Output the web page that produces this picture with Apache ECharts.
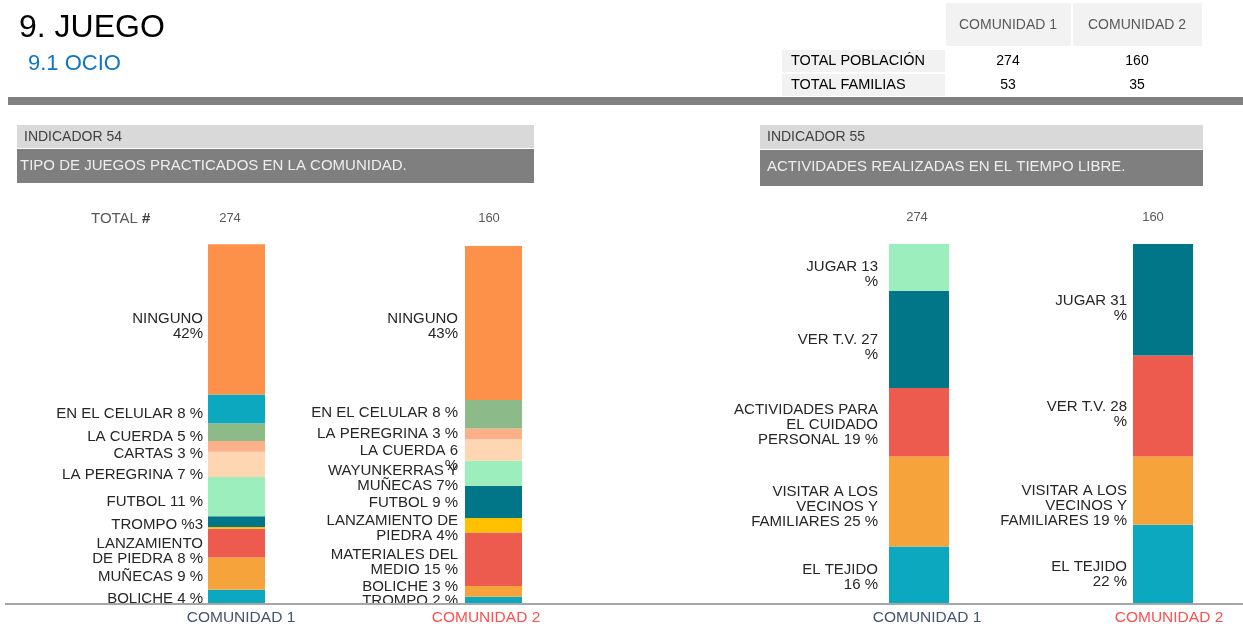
<!DOCTYPE html>
<html>
<head>
<meta charset="utf-8">
<title>9. JUEGO</title>
<script src="https://cdn.jsdelivr.net/npm/echarts@6/dist/echarts.min.js"></script>
<style>
  html, body { margin: 0; padding: 0; background: #ffffff; overflow: hidden; }
  #chart { width: 1290px; height: 626px; }
</style>
</head>
<body>
<div id="chart"></div>
<script>
// ---- Data -----------------------------------------------------------------
const comunidades = ['COMUNIDAD 1', 'COMUNIDAD 2'];
const totalPoblacion = [274, 160];
const totalFamilias = [53, 35];

// Indicador 54: tipo de juegos (%), segments listed bottom to top
const juegosC1Valores = [4, 9, 8, 0.5, 3, 11, 7, 3, 5, 8, 42];
const juegosC1Etiquetas = [
  'BOLICHE 4 %', 'MUÑECAS 9 %', 'LANZAMIENTO\nDE PIEDRA 8 %', '', 'TROMPO %3',
  'FUTBOL 11 %', 'LA PEREGRINA 7 %', 'CARTAS 3 %', 'LA CUERDA 5 %',
  'EN EL CELULAR 8 %', 'NINGUNO\n42%'
];
const juegosC2Valores = [2, 3, 15, 4, 9, 7, 6, 3, 8, 0, 43];
const juegosC2Etiquetas = [
  'TROMPO 2 %', 'BOLICHE 3 %', 'MATERIALES DEL\nMEDIO 15 %', 'LANZAMIENTO DE\nPIEDRA 4%',
  'FUTBOL 9 %', 'WAYUNKERRAS Y\nMUÑECAS 7%', 'LA CUERDA 6\n%', 'LA PEREGRINA 3 %',
  'EN EL CELULAR 8 %', '', 'NINGUNO\n43%'
];

// Indicador 55: actividades en el tiempo libre (%), bottom to top
const ocioC1Valores = [16, 25, 19, 27, 13];
const ocioC1Etiquetas = [
  'EL TEJIDO\n16 %', 'VISITAR A LOS\nVECINOS Y\nFAMILIARES 25 %',
  'ACTIVIDADES PARA\nEL CUIDADO\nPERSONAL 19 %', 'VER T.V. 27\n%', 'JUGAR 13\n%'
];
const ocioC2Valores = [22, 19, 28, 31, 0];
const ocioC2Etiquetas = [
  'EL TEJIDO\n22 %', 'VISITAR A LOS\nVECINOS Y\nFAMILIARES 19 %', 'VER T.V. 28\n%', 'JUGAR 31\n%', ''
];

// ---- Styles ---------------------------------------------------------------
const FONT = '"Liberation Sans", Arial, Helvetica, sans-serif';
const coloresJuegos = ['#0ba8c0', '#f5a33a', '#ec5b4e', '#ffc000', '#007688',
                       '#9ceebc', '#fed6b2', '#fdb088', '#8cbb89', '#0ba8c0', '#fe914a'];
const coloresOcio = ['#0ba8c0', '#f5a33a', '#ec5b4e', '#007688', '#9ceebc'];
const colorEjeC1 = '#44546a';
const colorEjeC2 = '#ff4f4f';

// Vertical nudges (px) that keep neighbouring labels apart
const ajusteJuegosC1 = [2, 3, 8, 0, 3, 5, 10, 7, 5, 5, 7];
const ajusteJuegosC2 = [0, -5, 3, 3.5, 1, 5.5, 8.5, 0, -1, 0, 3.5];
const ajusteOcioC1 = [2.5, 5, 2.5, 7.5, 7];
const ajusteOcioC2 = [10, 15, 8, 9, 0];

function buildSeries(gridIdx, colores, valores1, valores2, etiquetas1, etiquetas2,
                     ajuste1, ajuste2, barW, dist) {
  return colores.map(function (color, i) {
    return {
      type: 'bar',
      stack: 'total' + gridIdx,
      xAxisIndex: gridIdx,
      yAxisIndex: gridIdx,
      barWidth: barW,
      clip: false,
      itemStyle: { color: color },
      emphasis: { disabled: true },
      data: [
        { value: valores1[i], label: { distance: dist[0], offset: [0, ajuste1[i]] } },
        { value: valores2[i], label: { distance: dist[1], offset: [0, ajuste2[i]] } }
      ],
      label: {
        show: true,
        position: 'left',
        color: '#262626',
        fontFamily: FONT,
        fontSize: 15,
        lineHeight: 15,
        align: 'right',
        formatter: function (p) {
          return p.dataIndex === 0 ? etiquetas1[i] : etiquetas2[i];
        }
      }
    };
  });
}

// pads: horizontal padding [left, right] for each category label
function xAxisFor(gridIdx, pads) {
  return {
    type: 'category',
    gridIndex: gridIdx,
    data: [
      { value: comunidades[0], textStyle: { color: colorEjeC1, padding: [0, pads[0][1], 0, pads[0][0]] } },
      { value: comunidades[1], textStyle: { color: colorEjeC2, padding: [0, pads[1][1], 0, pads[1][0]] } }
    ],
    axisLine: { show: false },
    axisTick: { show: false },
    axisLabel: { margin: 6, fontFamily: FONT, fontSize: 15.5 },
    splitLine: { show: false }
  };
}

function yAxisFor(gridIdx) {
  return {
    type: 'value',
    gridIndex: gridIdx,
    min: 0,
    max: 100,
    show: false
  };
}

function txt(x, y, text, size, color, align) {
  return {
    type: 'text',
    x: x,
    y: y,
    style: {
      text: text,
      fontFamily: FONT,
      fontSize: size,
      fill: color,
      align: align || 'left',
      verticalAlign: 'middle'
    }
  };
}

function box(x, y, w, h, fill) {
  return { type: 'rect', shape: { x: x, y: y, width: w, height: h }, style: { fill: fill } };
}

const graphics = [
  // Heading
  txt(19, 28, '9. JUEGO', 32, '#000000'),
  txt(28, 64, '9.1 OCIO', 22, '#0f75c4'),

  // Population table
  box(946, 3, 125, 43, '#f2f2f2'),
  box(1073, 3, 129, 43, '#f2f2f2'),
  txt(1008, 25, comunidades[0], 14, '#595959', 'center'),
  txt(1137, 25, comunidades[1], 14, '#595959', 'center'),
  box(782, 50, 163, 22, '#f2f2f2'),
  box(782, 74, 163, 22, '#f2f2f2'),
  txt(791, 61, 'TOTAL POBLACIÓN', 14.5, '#000000'),
  txt(791, 85, 'TOTAL FAMILIAS', 14.5, '#000000'),
  txt(1008, 61, String(totalPoblacion[0]), 14, '#000000', 'center'),
  txt(1137, 61, String(totalPoblacion[1]), 14, '#000000', 'center'),
  txt(1008, 85, String(totalFamilias[0]), 14, '#000000', 'center'),
  txt(1137, 85, String(totalFamilias[1]), 14, '#000000', 'center'),

  // Section divider
  box(8, 97, 1235, 8, '#808080'),

  // Indicator headers
  box(17, 125, 517, 23, '#d9d9d9'),
  box(17, 149, 517, 34, '#7f7f7f'),
  txt(24, 137, 'INDICADOR 54', 14, '#404040'),
  txt(20, 166, 'TIPO DE JUEGOS PRACTICADOS EN LA COMUNIDAD.', 15, '#eeeeee'),
  box(760, 125, 443, 24, '#d9d9d9'),
  box(760, 150, 443, 36, '#7f7f7f'),
  txt(767, 137, 'INDICADOR 55', 14, '#404040'),
  txt(767, 167, 'ACTIVIDADES REALIZADAS EN EL TIEMPO LIBRE.', 15, '#eeeeee'),

  // Totals above the bars
  {
    type: 'text', x: 91, y: 219,
    style: {
      text: '{n|TOTAL }{b|#}',
      verticalAlign: 'middle',
      rich: {
        n: { fontFamily: FONT, fontSize: 15, fill: '#595959', color: '#595959' },
        b: { fontFamily: FONT, fontSize: 15, fontWeight: 'bold', fill: '#404040', color: '#404040' }
      }
    }
  },
  txt(230, 218, String(totalPoblacion[0]), 13, '#595959', 'center'),
  txt(489, 218, String(totalPoblacion[1]), 13, '#595959', 'center'),
  txt(917, 217, String(totalPoblacion[0]), 13, '#595959', 'center'),
  txt(1153, 217, String(totalPoblacion[1]), 13, '#595959', 'center'),

  // Shared baseline under both charts
  {
    type: 'line',
    shape: { x1: 5, y1: 604, x2: 1243, y2: 604 },
    style: { stroke: '#a6a6a6', lineWidth: 2 },
    z: 10
  }
];

const option = {
  animation: false,
  backgroundColor: '#ffffff',
  textStyle: { fontFamily: FONT },
  grid: [
    { left: 108, top: 246, width: 514, height: 358 },
    { left: 797, top: 244, width: 488, height: 360 }
  ],
  xAxis: [
    xAxisFor(0, [[9, 0], [0, 15]]),
    xAxisFor(1, [[16, 0], [12, 0]])
  ],
  yAxis: [yAxisFor(0), yAxisFor(1)],
  series: [].concat(
    buildSeries(0, coloresJuegos, juegosC1Valores, juegosC2Valores,
                juegosC1Etiquetas, juegosC2Etiquetas, ajusteJuegosC1, ajusteJuegosC2, 57, [5, 7]),
    buildSeries(1, coloresOcio, ocioC1Valores, ocioC2Valores,
                ocioC1Etiquetas, ocioC2Etiquetas, ajusteOcioC1, ajusteOcioC2, 60, [11, 6])
  ),
  graphic: graphics
};

const chart = echarts.init(document.getElementById('chart'), null, { renderer: 'canvas' });
chart.setOption(option);
</script>
</body>
</html>
